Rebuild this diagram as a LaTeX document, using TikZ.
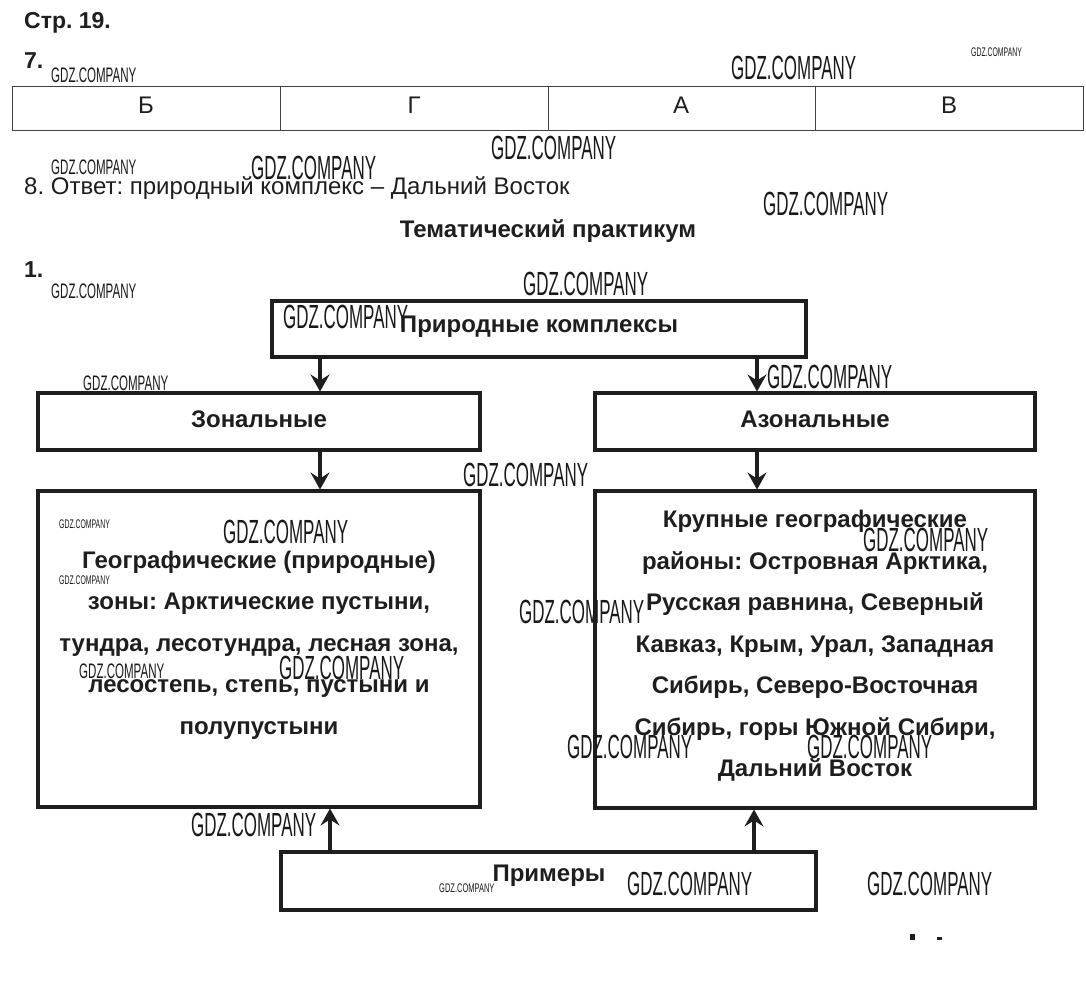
\documentclass[tikz,border=0pt]{standalone}
\usepackage{fontspec}
\setmainfont{Liberation Sans}
\usetikzlibrary{arrows.meta}
\definecolor{ink}{HTML}{1E1E1E}
\tikzset{
  box/.style={draw=ink, line width=4pt, fill=white},
  btxt/.style={text=ink, font=\bfseries\fontsize{24}{28}\selectfont, inner sep=0pt},
  body/.style={text=ink, font=\bfseries\fontsize{24}{41.5}\selectfont, align=center, inner sep=0pt},
  arr/.style={draw=ink, line width=3.5pt, shorten >=1.5pt, -{Stealth[length=17pt,width=19pt,inset=6pt]}},
  tline/.style={draw=black!75, line width=1pt},
  cell/.style={text=ink, font=\fontsize{24}{28}\selectfont, inner sep=0pt},
  head/.style={text=ink, font=\bfseries\fontsize{23}{26}\selectfont, anchor=base west, inner sep=0pt},
  wmL/.style={text=black!90, font=\fontsize{33.5}{34}\selectfont, anchor=north west, inner sep=0pt},
  wmS/.style={text=black!90, font=\fontsize{21}{22}\selectfont, anchor=north west, inner sep=0pt},
  wmT/.style={text=black!90, font=\fontsize{12.5}{13}\selectfont, anchor=north west, inner sep=0pt},
}
\newcommand{\gdz}[1]{\scalebox{#1}[1]{GDZ.COMPANY}}
\frenchspacing
\begin{document}
\begin{tikzpicture}[x=1pt,y=-1pt]
\useasboundingbox (0,0) rectangle (1086,1000);
\fill[white] (0,0) rectangle (1086,1000);

% headings
\node[head] (p19) at (24,29) {Стр. 19.};
\node[head] (n7) at (24,69) {7.};
\node[text=ink, font=\fontsize{24}{28}\selectfont, anchor=base west, inner sep=0pt] (n8) at (24,195) {8. Ответ: природный комплекс – Дальний Восток};
\node[btxt, anchor=base] (tp) at (548,237) {Тематический практикум};
\node[head] (n1) at (24,277) {1.};

% table
\draw[tline] (12,87) rectangle (1083,131);
\draw[tline] (280,87) -- (280,131);
\draw[tline] (548,87) -- (548,131);
\draw[tline] (815,87) -- (815,131);
\node[cell] (c1) at (146,105) {Б};
\node[cell] (c2) at (414,105) {Г};
\node[cell] (c3) at (681,105) {А};
\node[cell] (c4) at (949,105) {В};

% boxes
\draw[box] (272,301) rectangle (806,357);
\node[btxt] (pk) at (539,327) {Природные комплексы};
\coordinate (pkL) at (320,357);
\coordinate (pkR) at (757,357);

\draw[box] (38,393) rectangle (480,450);
\node[btxt] (zon) at (259,419) {Зональные};
\draw[box] (595,393) rectangle (1035,450);
\node[btxt] (azon) at (815,419) {Азональные};

\coordinate (zT) at (320,393);
\coordinate (aT) at (757,393);
\coordinate (zB) at (320,450);
\coordinate (aB) at (757,450);

\draw[box] (38,491) rectangle (480,807);
\draw[box] (595,491) rectangle (1035,808);
\coordinate (gT) at (320,491);
\coordinate (kT) at (757,491);
\coordinate (gB) at (330,807);
\coordinate (kB) at (754,808);

\node[body] (geo) at (259,645) {Географические (природные)\\зоны: Арктические пустыни,\\тундра, лесотундра, лесная зона,\\лесостепь, степь, пустыни и\\полупустыни};
\node[body] (kr) at (815,646) {Крупные географические\\районы: Островная Арктика,\\Русская равнина, Северный\\Кавказ, Крым, Урал, Западная\\Сибирь, Северо-Восточная\\Сибирь, горы Южной Сибири,\\Дальний Восток};

\draw[box] (281,852) rectangle (816,910);
\node[btxt] (pr) at (549,876) {Примеры};
\coordinate (prL) at (330,852);
\coordinate (prR) at (754,852);

% arrows
\draw[arr] (pkL) -- (zT);
\draw[arr] (pkR) -- (aT);
\draw[arr] (zB) -- (gT);
\draw[arr] (aB) -- (kT);
\draw[arr] (prL) -- (gB);
\draw[arr] (prR) -- (kB);

% small marks
\fill[ink] (910,934) rectangle (915,940);
\fill[ink] (937,937) rectangle (942,940);

% watermarks
\node[wmS] (w1) at (51,68) {\gdz{0.55}};
\node[wmL] (w2) at (731,56) {\gdz{0.506}};
\node[wmT] (w3) at (971,48) {\gdz{0.55}};
\node[wmL] (w4) at (491,136) {\gdz{0.506}};
\node[wmS] (w5) at (51,160) {\gdz{0.55}};
\node[wmL] (w6) at (251,156) {\gdz{0.506}};
\node[wmL] (w7) at (763,192) {\gdz{0.506}};
\node[wmS] (w8) at (51,284) {\gdz{0.55}};
\node[wmL] (w9) at (523,272) {\gdz{0.506}};
\node[wmL] (w10) at (283,305) {\gdz{0.506}};
\node[wmS] (w11) at (83,376) {\gdz{0.55}};
\node[wmL] (w12) at (767,365) {\gdz{0.506}};
\node[wmL] (w13) at (463,463) {\gdz{0.506}};
\node[wmT] (w14) at (59,520) {\gdz{0.55}};
\node[wmL] (w15) at (223,520) {\gdz{0.506}};
\node[wmT] (w16) at (59,576) {\gdz{0.55}};
\node[wmL] (w17) at (863,528) {\gdz{0.506}};
\node[wmL] (w18) at (519,600) {\gdz{0.506}};
\node[wmL] (w19) at (279,656) {\gdz{0.506}};
\node[wmS] (w20) at (79,664) {\gdz{0.55}};
\node[wmL] (w21) at (567,735) {\gdz{0.506}};
\node[wmL] (w22) at (807,735) {\gdz{0.506}};
\node[wmL] (w23) at (191,813) {\gdz{0.506}};
\node[wmT] (w24) at (439,884) {\gdz{0.6}};
\node[wmL] (w25) at (627,872) {\gdz{0.506}};
\node[wmL] (w26) at (867,872) {\gdz{0.506}};
\end{tikzpicture}
\end{document}
